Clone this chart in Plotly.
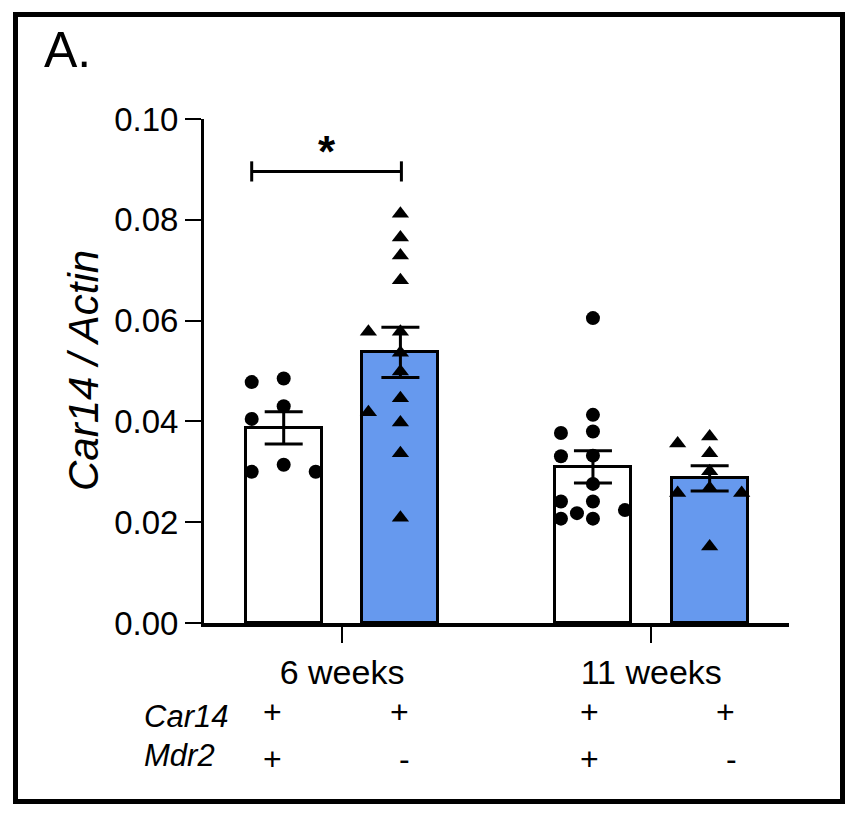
import plotly.graph_objects as go

# ---------------- data ----------------
group_labels = ["6 weeks", "11 weeks"]
car14_row = ["+", "+", "+", "+"]
mdr2_row = ["+", "-", "+", "-"]
bar_means = [0.0387, 0.0537, 0.0310, 0.0287]
bar_sem = [0.0032, 0.0050, 0.0032, 0.0025]
wk6_mdr2_pos = [0.0485, 0.0478, 0.0430, 0.0405, 0.0314, 0.0300, 0.0300]
wk6_mdr2_neg = [0.0812, 0.0765, 0.0729, 0.0680, 0.0578, 0.0578, 0.0536,
                0.0499, 0.0446, 0.0418, 0.0398, 0.0337, 0.0209]
wk11_mdr2_pos = [0.0605, 0.0413, 0.0380, 0.0377, 0.0332, 0.0331, 0.0276,
                 0.0241, 0.0241, 0.0224, 0.0218, 0.0207, 0.0207]
wk11_mdr2_neg = [0.0370, 0.0356, 0.0337, 0.0301, 0.0268, 0.0258, 0.0258, 0.0152]
y_ticks = [0.00, 0.02, 0.04, 0.06, 0.08, 0.10]
y_title = "Car14 / Actin"
panel_label = "A."
signif = "*"

# ---------------- layout geometry ----------------
OFF = 8                     # page body margin of the browser
W, H = 860 - OFF, 818 - OFF
L, T = 204 - OFF, 119 - OFF
PW, PH = 585, 504
R, B = W - L - PW, H - T - PH
bar_x = [0, 1, 2.65, 3.65]
group_x = [0.5, 3.15]
x_range = [-0.683, 4.33]
y_range = [0, 0.10]
ppu_x = PW / (x_range[1] - x_range[0])
ppu_y = PH / (y_range[1] - y_range[0])
FONT = "Liberation Sans, Arial, Helvetica, sans-serif"
BLUE = "#6699EE"


def pxx(px):
    """screen pixel x -> paper coordinate"""
    return (px - OFF - L) / PW


def pxy(py):
    """screen pixel y -> paper coordinate"""
    return (T + PH - (py - OFF)) / PH


def swarm(vals, spacing_px=32, dmin=15):
    placed = []
    order = sorted(range(len(vals)), key=lambda i: -vals[i])
    res = [0.0] * len(vals)
    cands = [0, -1, 1, -0.5, 0.5, -1.5, 1.5, -2, 2]
    for i in order:
        py = vals[i] * ppu_y
        for k in cands:
            px = k * spacing_px
            if all(((px - qx) ** 2 + (py - qy) ** 2) ** 0.5 >= dmin for qx, qy in placed):
                placed.append((px, py))
                res[i] = px / ppu_x
                break
    return res


fig = go.Figure()
fig.add_trace(go.Bar(
    x=bar_x, y=bar_means, width=0.65,
    marker=dict(color=["white", BLUE, "white", BLUE],
                line=dict(color="black", width=3)),
    error_y=dict(type="data", array=bar_sem, color="black", thickness=3, width=19),
    showlegend=False, hoverinfo="skip",
))

groups = [wk6_mdr2_pos, wk6_mdr2_neg, wk11_mdr2_pos, wk11_mdr2_neg]
symbols = ["circle", "triangle-up", "circle", "triangle-up"]
sizes = [14, 15, 14, 15]
for xc, vals, sym, sz in zip(bar_x, groups, symbols, sizes):
    offs = swarm(vals)
    fig.add_trace(go.Scatter(
        x=[xc + o for o in offs], y=vals, mode="markers",
        marker=dict(symbol=sym, size=sz, color="black", line=dict(width=0)),
        showlegend=False, hoverinfo="skip",
    ))

shapes = []
# significance bracket
bx0 = bar_x[0] - 32 / ppu_x
bx1 = bar_x[1] + 1 / ppu_x
by = 0.0896
for xa, xb, ya, yb in [(bx0, bx1, by, by), (bx0, bx0, by - 0.002, by + 0.002),
                       (bx1, bx1, by - 0.002, by + 0.002)]:
    shapes.append(dict(type="line", xref="x", yref="y", x0=xa, x1=xb, y0=ya, y1=yb,
                       line=dict(color="black", width=3)))
# outer frame
shapes.append(dict(type="rect", xref="paper", yref="paper",
                   x0=pxx(15.5), x1=pxx(842.5), y0=pxy(801.5), y1=pxy(14.5),
                   line=dict(color="black", width=5), fillcolor="rgba(0,0,0,0)"))

ann = []
ann.append(dict(x=(bx0 + bx1) / 2, y=0.0935, xref="x", yref="y", text=signif,
                showarrow=False, yanchor="middle",
                font=dict(family=FONT, size=44, color="black", weight="bold")))
ann.append(dict(x=pxx(42), y=pxy(50), xref="paper", yref="paper", text=panel_label,
                showarrow=False, xanchor="left", yanchor="middle",
                font=dict(family=FONT, size=50, color="black")))
ann.append(dict(x=pxx(83), y=pxy(371), xref="paper", yref="paper", text=y_title,
                showarrow=False, textangle=-90, xanchor="center", yanchor="middle",
                font=dict(family=FONT, size=42, color="black", style="italic")))
ann.append(dict(x=pxx(142), y=pxy(716), xref="paper", yref="paper", text="Car14",
                showarrow=False, xanchor="left", yanchor="middle",
                font=dict(family=FONT, size=31, color="black", style="italic")))
ann.append(dict(x=pxx(142), y=pxy(755), xref="paper", yref="paper", text="Mdr2",
                showarrow=False, xanchor="left", yanchor="middle",
                font=dict(family=FONT, size=31, color="black", style="italic")))
car_shift = [-11, -1, -3, 16]
mdr_shift = [-11, 4, -3, 22]
for i, xc in enumerate(bar_x):
    ann.append(dict(x=xc, y=pxy(712), xref="x", yref="paper", text=car14_row[i],
                    xshift=car_shift[i], showarrow=False, yanchor="middle",
                    font=dict(family=FONT, size=32, color="black")))
    ann.append(dict(x=xc, y=pxy(759), xref="x", yref="paper", text=mdr2_row[i],
                    xshift=mdr_shift[i], showarrow=False, yanchor="middle",
                    font=dict(family=FONT, size=32, color="black")))

fig.update_layout(
    width=W, height=H, margin=dict(l=L, r=R, t=T, b=B),
    paper_bgcolor="white", plot_bgcolor="white",
    font=dict(family=FONT, color="black"),
    shapes=shapes, annotations=ann, bargap=0,
    xaxis=dict(range=x_range, tickmode="array", tickvals=group_x, ticktext=group_labels,
               showline=True, linecolor="black", linewidth=3.5, ticks="outside",
               ticklen=16, tickwidth=2, tickcolor="black", showgrid=False, zeroline=False,
               tickfont=dict(family=FONT, size=34, color="black"), fixedrange=True),
    yaxis=dict(range=y_range, tickmode="array", tickvals=y_ticks,
               ticktext=[f"{v:.2f}" for v in y_ticks],
               showline=True, linecolor="black", linewidth=3, ticks="outside",
               ticklen=16, tickwidth=2, tickcolor="black", showgrid=False, zeroline=False,
               tickfont=dict(family=FONT, size=33, color="black"), fixedrange=True),
)

fig.write_html("out.html")
